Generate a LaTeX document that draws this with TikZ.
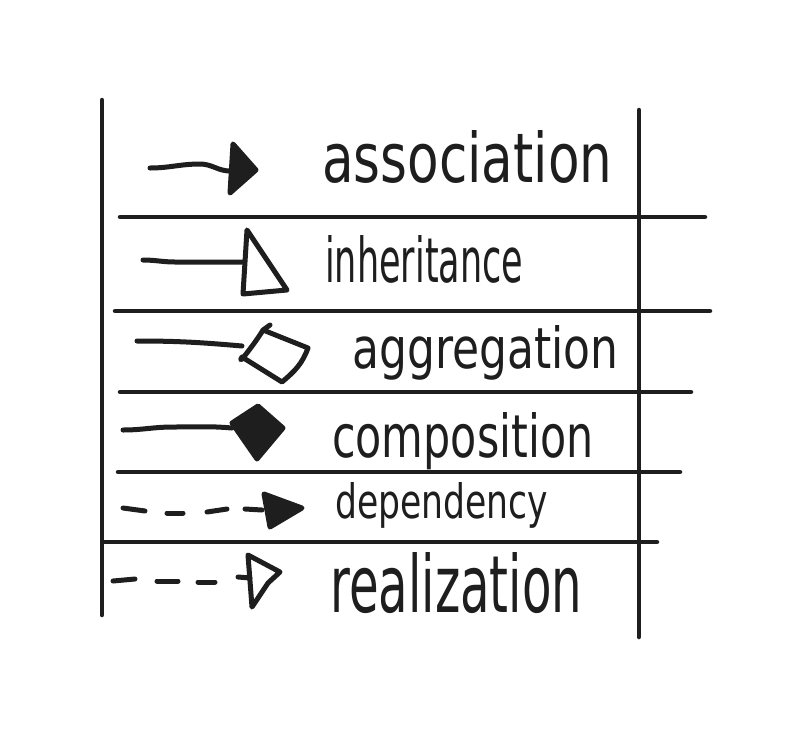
\documentclass[tikz,border=0pt]{standalone}
\usepackage{fontspec}
\setmainfont{DejaVu Sans}
\usepackage{graphicx}
\definecolor{ink}{HTML}{1E1E1E}
\tikzset{
  rule/.style={line width=4.5pt, draw=ink, line cap=round},
  pen/.style={line width=5pt, draw=ink, line cap=round, line join=round},
  solidhead/.style={pen, fill=ink},
  openhead/.style={pen, fill=white},
  lbl/.style={anchor=base west, inner sep=0pt, text=ink}
}
\begin{document}
\begin{tikzpicture}[x=1pt,y=-1pt]
\fill[white] (0,0) rectangle (809,740);
\useasboundingbox (0,0) rectangle (809,740);

% frame
\draw[rule] (102,100) -- (102,615);
\draw[rule] (639,110) -- (639,637);
\draw[rule] (120,217) -- (705,217);
\draw[rule] (115,311) -- (710,311);
\draw[rule] (120,392) -- (691,392);
\draw[rule] (118,472) -- (680,472);
\draw[rule] (103,542) -- (657,542);

% association
\coordinate (as0) at (150,168);
\coordinate (as1) at (230,171);
\draw[pen] (as0) to[out=0,in=180] (200,164) to[out=0,in=180] (as1);
\draw[solidhead] (233,144) -- (256,170) -- (230,193) -- cycle;
\node[lbl] (tas) at (322,182) {\resizebox{290pt}{52pt}{association}};

% inheritance
\coordinate (in0) at (143,260);
\coordinate (in1) at (244,262);
\draw[pen] (in0) to[out=0,in=180] (175,262) -- (in1);
\draw[pen] (247,230) -- (287,290) -- (243,294) -- cycle;
\node[lbl] (tin) at (325,282) {\resizebox{198pt}{47pt}{inheritance}};

% aggregation
\coordinate (ag0) at (137,341);
\coordinate (ag1) at (242,346);
\draw[pen] (ag0) to[out=0,in=175] (ag1);
\draw[pen] (263,330) -- (308,348) to[out=250,in=40] (282,382) -- (242,357) to[out=-120,in=-120] (263,330) -- (270,325);
\node[lbl] (tag) at (352,368) {\resizebox{266pt}{43pt}{aggregation}};

% composition
\coordinate (co0) at (123,430);
\coordinate (co1) at (232,428);
\draw[pen] (co0) to[out=0,in=180] (173,427) to[out=0,in=175] (co1);
\draw[solidhead] (258,406) -- (283,428) -- (257,459) -- (232,423) -- cycle;
\node[lbl] (tco) at (332,457) {\resizebox{261pt}{45pt}{composition}};

% dependency
\draw[pen] (123,508) -- (145,511);
\draw[pen] (167,513) -- (183,513);
\draw[pen] (207,512) -- (227,509);
\draw[pen] (245,509) -- (262,510);
\draw[solidhead] (264,494) -- (302,508) -- (270,527) -- cycle;
\node[lbl] (tde) at (335,518) {\resizebox{213pt}{36pt}{dependency}};

% realization
\draw[pen] (113,581) -- (135,579);
\draw[pen] (157,581) -- (178,581);
\draw[pen] (198,582) -- (215,582);
\draw[pen] (238,577) -- (250,578);
\draw[pen] (248,555) -- (280,572) -- (268,583) -- (252,607) -- cycle;
\node[lbl] (tre) at (330,612) {\resizebox{252pt}{60pt}{realization}};
\end{tikzpicture}
\end{document}
